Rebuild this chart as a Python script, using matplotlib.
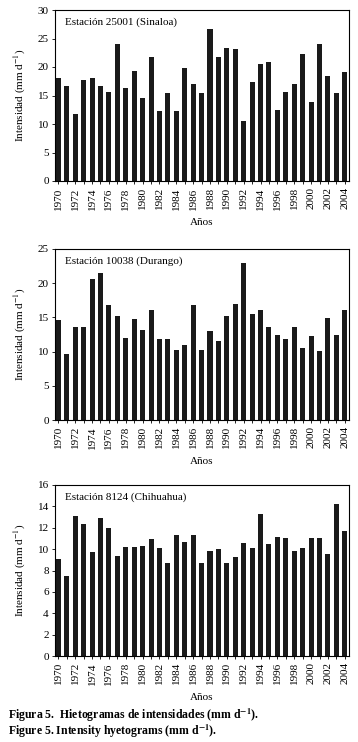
import numpy as np
import matplotlib
matplotlib.use("Agg")
import matplotlib.pyplot as plt

plt.rcParams["font.family"] = ["Liberation Serif", "DejaVu Serif"]
plt.rcParams["mathtext.fontset"] = "stix"

years = list(range(1970, 2005))

sinaloa = [18.1, 16.7, 11.8, 17.7, 18.1, 16.7, 15.7, 24.0, 16.4, 19.3,
           14.6, 21.8, 12.3, 15.5, 12.2, 19.8, 17.1, 15.4, 26.6, 21.7,
           23.4, 23.1, 10.5, 17.4, 20.6, 20.9, 12.5, 15.7, 17.1, 22.2,
           13.8, 24.1, 18.5, 15.4, 19.2]

durango = [14.6, 9.7, 13.6, 13.6, 20.6, 21.5, 16.8, 15.2, 12.0, 14.8,
           13.2, 16.1, 11.8, 11.8, 10.3, 11.0, 16.8, 10.3, 13.0, 11.5,
           15.2, 16.9, 22.9, 15.5, 16.1, 13.6, 12.5, 11.8, 13.6, 10.5,
           12.3, 10.1, 14.9, 12.4, 16.1]

chihuahua = [9.1, 7.5, 13.1, 12.35, 9.75, 12.9, 12.0, 9.35, 10.2, 10.2,
             10.3, 10.95, 10.1, 8.7, 11.3, 10.65, 11.3, 8.7, 9.85, 10.0,
             8.7, 9.25, 10.55, 10.1, 13.3, 10.5, 11.1, 11.05, 9.85, 10.1,
             11.05, 11.05, 9.55, 14.2, 11.7]

panels = [
    ("Estación 25001 (Sinaloa)", sinaloa, 30, [0, 5, 10, 15, 20, 25, 30], 10),
    ("Estación 10038 (Durango)", durango, 25, [0, 5, 10, 15, 20, 25], 249),
    ("Estación 8124 (Chihuahua)", chihuahua, 16, [0, 2, 4, 6, 8, 10, 12, 14, 16], 485),
]

W, H = 358, 742
fig = plt.figure(figsize=(W / 100, H / 100), dpi=100)

for title, vals, ymax, yt, top in panels:
    ax = fig.add_axes([55 / W, 1 - (top + 171) / H, 294 / W, 171 / H])
    ax.bar(years, vals, width=0.6, color="#1a1a1a")
    ax.set_xlim(1969.6, 2004.5)
    ax.set_ylim(0, ymax)
    ax.set_yticks(yt)
    ax.set_xticks(years[::2])
    ax.set_xticks(years, minor=True)
    ax.set_xticklabels([str(y) for y in years[::2]], rotation=90)
    ax.tick_params(axis="both", which="both", direction="out", labelsize=8,
                   length=2.5, width=0.6, pad=2)
    ax.tick_params(axis="x", which="minor", length=2)
    for s in ax.spines.values():
        s.set_linewidth(0.8)
    ax.text(0.035, 0.93, title, transform=ax.transAxes, fontsize=8,
            va="center", ha="left")
    ax.set_ylabel("Intensidad (mm d$^{-1}$)", fontsize=8, labelpad=7)
    ax.set_xlabel("Años", fontsize=8, labelpad=6)

fig.text(8 / W, 1 - 719 / H, "Figura 5.  Hietogramas de intensidades (mm d$^{\\mathbf{-1}}$).",
         fontsize=8.5, fontweight="bold", va="baseline", ha="left")
fig.text(8 / W, 1 - 735 / H, "Figure 5. Intensity hyetograms (mm d$^{\\mathbf{-1}}$).",
         fontsize=8.5, fontweight="bold", va="baseline", ha="left")

fig.savefig("out.png", dpi=100)
